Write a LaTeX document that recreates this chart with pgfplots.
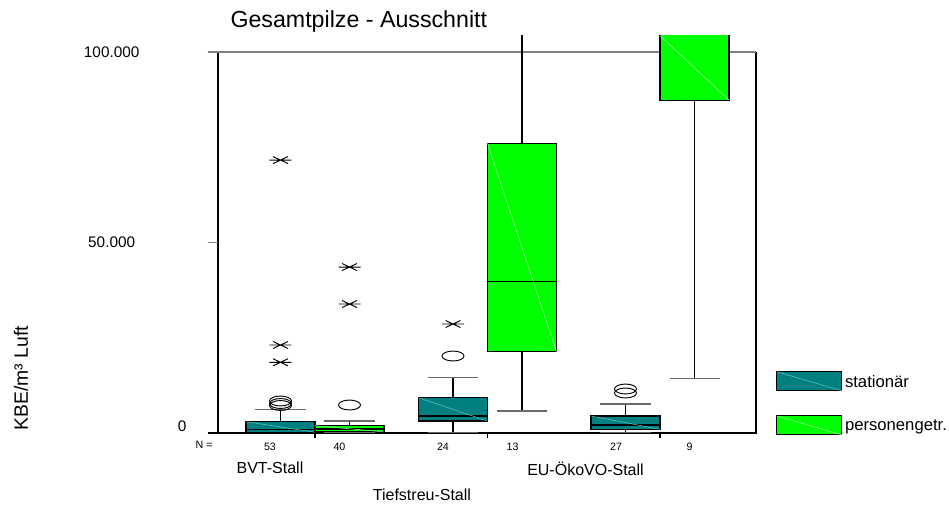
\documentclass[border=0pt]{standalone}
\usepackage{fontspec}
\setmainfont{Liberation Sans}
\usepackage{pgfplots}
\pgfplotsset{compat=1.18}
\usepgfplotslibrary{statistics}
\definecolor{spssteal}{RGB}{0,128,128}
\definecolor{spssgreen}{RGB}{0,255,0}
\definecolor{tealdiag}{RGB}{110,190,190}
\definecolor{greendiag}{RGB}{160,255,160}
\definecolor{capgray}{RGB}{105,105,105}
\definecolor{framegray}{RGB}{128,128,128}

\pgfdeclareplotmark{spssstar}{%
  \pgfpathmoveto{\pgfqpoint{-\pgfplotmarksize}{0pt}}%
  \pgfpathlineto{\pgfqpoint{\pgfplotmarksize}{0pt}}%
  \pgfpathmoveto{\pgfqpoint{-0.68\pgfplotmarksize}{-0.32\pgfplotmarksize}}%
  \pgfpathlineto{\pgfqpoint{0.68\pgfplotmarksize}{0.32\pgfplotmarksize}}%
  \pgfpathmoveto{\pgfqpoint{-0.68\pgfplotmarksize}{0.32\pgfplotmarksize}}%
  \pgfpathlineto{\pgfqpoint{0.68\pgfplotmarksize}{-0.32\pgfplotmarksize}}%
  \pgfusepathqstroke}

\pgfplotsset{
  boxplot/draw direction=y,
  boxplot/draw/lower whisker/.code={%
    \draw[black,line width=1.2pt]
      (boxplot cs:\pgfplotsboxplotvalue{lower quartile}) --
      (boxplot cs:\pgfplotsboxplotvalue{lower whisker});
    \draw[capgray,line width=0.9pt]
      (boxplot whisker cs:\pgfplotsboxplotvalue{lower whisker},0) --
      (boxplot whisker cs:\pgfplotsboxplotvalue{lower whisker},1);
  },
  boxplot/draw/upper whisker/.code={%
    \draw[black,line width=1.2pt]
      (boxplot cs:\pgfplotsboxplotvalue{upper quartile}) --
      (boxplot cs:\pgfplotsboxplotvalue{upper whisker});
    \draw[capgray,line width=0.9pt]
      (boxplot whisker cs:\pgfplotsboxplotvalue{upper whisker},0) --
      (boxplot whisker cs:\pgfplotsboxplotvalue{upper whisker},1);
  },
  boxplot/every median/.style={black,line width=0.8pt},
  stat/.style={forget plot, draw=black, fill=spssteal, line width=0.8pt},
  pers/.style={forget plot, draw=black, fill=spssgreen, line width=0.8pt},
  circ/.style={forget plot, only marks, black, mark=o, mark size=8.25pt,
    mark options={yscale=0.45, line width=0.7pt}},
  star/.style={forget plot, only marks, black, mark=spssstar, mark size=8.25pt,
    mark options={line width=0.7pt}},
}
\def\XMIN{0.4377}
\def\XMAX{3.5565}

\begin{document}
\begin{tikzpicture}
\path[use as bounding box] (0pt,0pt) rectangle (711.75pt,378pt);
% y values in thousands of KBE/m3
\begin{axis}[
  at={(163.5pt,53.25pt)}, anchor=south west,
  scale only axis, width=403.5pt, height=297.975pt,
  xmin=\XMIN, xmax=\XMAX, ymin=0, ymax=104.3,
  clip mode=individual,
  axis line style={draw=none},
  tick align=outside, major tick length=3.75pt,
  xtick={1,2,3}, xticklabels={}, xtick pos=bottom,
  xtick style={black, line width=1pt},
  scaled y ticks=false,
  ytick={0,50,100},
  yticklabels={\hspace*{105.75pt}\raisebox{5pt}[\height][\depth]{0},50.000,100.000},
  ytick pos=left, ytick style={draw=none},
  yticklabel style={anchor=center, xshift=-76pt, font=\fontsize{11.5}{13}\selectfont},
  ylabel={KBE/m³ Luft},
  ylabel style={at={(axis description cs:-0.366,0.138)}, anchor=center,
    font=\fontsize{14.5}{16}\selectfont},
  title={Gesamtpilze - Ausschnitt},
  title style={at={(axis description cs:0.0145,1.0194)}, anchor=base west, yshift=-6pt,
    font=\fontsize{17.4}{20}\selectfont},
  legend style={at={(axis description cs:1.0372,0.156)}, anchor=north west,
    draw=none, fill=none, inner sep=0pt, row sep=17.5pt,
    font=\fontsize{12.5}{14}\selectfont,
    /tikz/every even column/.append style={column sep=2pt}},
  legend cell align=left,
]
% frame
\draw[black, line width=1.5pt] (axis cs:\XMIN,100) -- (axis cs:\XMIN,0);
\draw[black, line width=1.5pt] ([xshift=-7.5pt]axis cs:\XMIN,0) -- (axis cs:\XMAX,0) -- (axis cs:\XMAX,100);
\draw[framegray, line width=1.3pt] ([xshift=-7.5pt]axis cs:\XMIN,100) -- (axis cs:\XMAX,100);
\draw[framegray, line width=1pt] ([xshift=-7.5pt]axis cs:\XMIN,50) -- (axis cs:\XMIN,50);

% BVT-Stall
\addplot[stat, boxplot prepared={draw position=0.8, lower whisker=0.1, lower quartile=0.2,
  median=0.97, upper quartile=2.97, upper whisker=6.12, box extend=0.4, whisker extend=0.29}] coordinates {};
\addplot[forget plot, tealdiag, line width=0.4pt] coordinates {(0.6,2.97) (1.0,0.2)};
\addplot[pers, boxplot prepared={draw position=1.2, lower whisker=0.1, lower quartile=0.3,
  median=1.05, upper quartile=1.92, upper whisker=3.15, box extend=0.4, whisker extend=0.29}] coordinates {};
\addplot[forget plot, greendiag, line width=0.4pt] coordinates {(1.0,1.92) (1.4,0.3)};
% Tiefstreu-Stall
\addplot[stat, boxplot prepared={draw position=1.8, lower whisker=0.08, lower quartile=3.15,
  median=4.46, upper quartile=9.27, upper whisker=14.52, box extend=0.4, whisker extend=0.29}] coordinates {};
\addplot[forget plot, tealdiag, line width=0.4pt] coordinates {(1.6,9.27) (2.0,3.15)};
\addplot[pers, boxplot prepared={draw position=2.2, lower whisker=5.775, lower quartile=21.39,
  median=39.71, upper quartile=76.04, upper whisker=112, box extend=0.4, whisker extend=0.29}] coordinates {};
\addplot[forget plot, greendiag, line width=0.4pt] coordinates {(2.0,76.04) (2.4,21.39)};
% EU-OekoVO-Stall
\addplot[stat, boxplot prepared={draw position=2.8, lower whisker=0.08, lower quartile=0.97,
  median=2.1, upper quartile=4.46, upper whisker=7.61, box extend=0.4, whisker extend=0.29}] coordinates {};
\addplot[forget plot, tealdiag, line width=0.4pt] coordinates {(2.6,4.46) (3.0,0.97)};
\addplot[pers, boxplot prepared={draw position=3.2, lower whisker=14.26, lower quartile=87.41,
  median=108, upper quartile=115, upper whisker=125, box extend=0.4, whisker extend=0.29}] coordinates {};
\addplot[forget plot, greendiag, line width=0.4pt] coordinates {(3.0,104.3) (3.4,87.41)};

% outliers
\addplot[circ] coordinates {(0.8,8.4) (0.8,7.74) (0.8,7.22) (1.2,7.35) (1.8,20.21) (2.8,11.55) (2.8,10.5)};
\addplot[star] coordinates {(0.8,71.65) (0.8,23.1) (0.8,18.56) (1.2,43.57) (1.2,33.86) (1.8,28.61)};

% legend
\addlegendimage{legend image code/.code={
  \draw[fill=spssteal, draw=black, line width=0.8pt] (0pt,-6.3pt) rectangle (48.75pt,7.9pt);
  \draw[tealdiag, line width=0.4pt] (0pt,7.9pt) -- (48.75pt,-6.3pt);}}
\addlegendentry{stationär}
\addlegendimage{legend image code/.code={
  \draw[fill=spssgreen, draw=black, line width=0.8pt] (0pt,-6.3pt) rectangle (48.75pt,7.9pt);
  \draw[greendiag, line width=0.4pt] (0pt,7.9pt) -- (48.75pt,-6.3pt);}}
\addlegendentry{personengetr.}

% N row and categories
\node[font=\fontsize{8}{9}\selectfont] at (axis cs:0.357,-3.15) {N =};
\node[font=\fontsize{8}{9}\selectfont] at (axis cs:0.739,-3.675) {53};
\node[font=\fontsize{8}{9}\selectfont] at (axis cs:1.142,-3.675) {40};
\node[font=\fontsize{8}{9}\selectfont] at (axis cs:1.742,-3.675) {24};
\node[font=\fontsize{8}{9}\selectfont] at (axis cs:2.145,-3.675) {13};
\node[font=\fontsize{8}{9}\selectfont] at (axis cs:2.745,-3.675) {27};
\node[font=\fontsize{8}{9}\selectfont] at (axis cs:3.171,-3.675) {9};
\node[font=\fontsize{12}{14}\selectfont] at (axis cs:0.739,-9.186) {BVT-Stall};
\node[font=\fontsize{12}{14}\selectfont] at (axis cs:1.620,-16.273) {Tiefstreu-Stall};
\node[font=\fontsize{12}{14}\selectfont] at (axis cs:2.568,-9.449) {EU-ÖkoVO-Stall};
\end{axis}
\end{tikzpicture}
\end{document}
